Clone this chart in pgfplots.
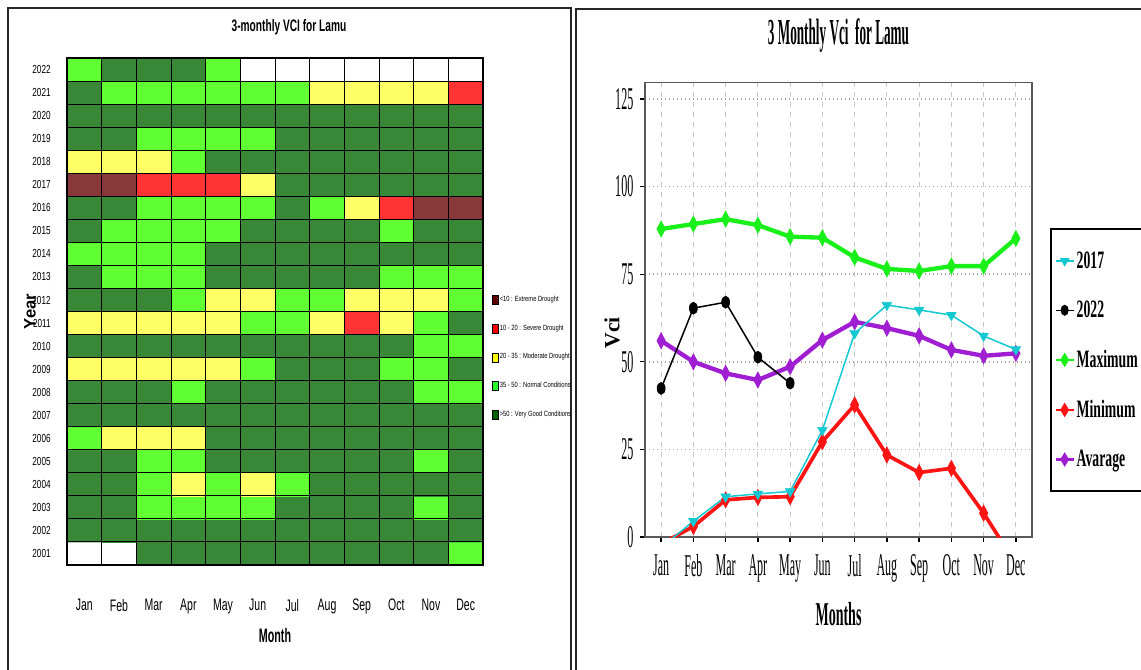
\documentclass[border=0pt]{standalone}
\usepackage{fontspec}
\setmainfont{Liberation Serif}
\newfontfamily\sansf{Liberation Sans}
\usepackage{graphicx}
\usepackage{pgfplots}
\pgfplotsset{compat=1.18}

\definecolor{lExt}{RGB}{95,0,0}
\definecolor{lSev}{RGB}{255,0,0}
\definecolor{lMod}{RGB}{255,255,0}
\definecolor{lNor}{RGB}{40,255,40}
\definecolor{lGood}{RGB}{0,95,0}
\definecolor{cC}{RGB}{20,200,210}
\definecolor{cG}{RGB}{25,240,25}
\definecolor{cR}{RGB}{255,20,20}
\definecolor{cP}{RGB}{160,30,210}

% left panel text helpers
\newcommand{\LMo}[1]{\scalebox{0.63}[1]{\sansf\fontsize{10}{10}\selectfont #1}}
\newcommand{\LYr}[1]{\scalebox{0.7}[1]{\sansf\fontsize{7}{7}\selectfont #1}}
\newcommand{\LGd}[1]{\scalebox{0.77}[1]{\sansf\fontsize{4.5}{4.5}\selectfont #1}}
% right panel text helpers
\newcommand{\RTk}[1]{\scalebox{0.38}[1]{\fontsize{19}{19}\selectfont #1}}
\newcommand{\RLg}[1]{\scalebox{0.55}[1]{\fontsize{15}{15}\selectfont\bfseries #1}}

\pgfplotsset{swatch/.style={legend image code/.code={\draw[fill=#1, draw=black, line width=0.3pt] (0pt,-2.7pt) rectangle (3.6pt,2.7pt);}}}

\begin{document}
\begin{tikzpicture}
\useasboundingbox (0,0) rectangle (684.6pt,401.4pt);
\draw[line width=0.9pt, black!85] (4.8pt,-3pt) -- (4.8pt,396.6pt) -- (342.6pt,396.6pt) -- (342.6pt,-3pt);
\draw[line width=0.9pt, black!85] (345.6pt,-3pt) -- (345.6pt,396pt) -- (690pt,396pt);

% ---------------- Left: heat map ----------------
\begin{axis}[
  at={(40.2pt,62.4pt)}, anchor=south west, scale only axis,
  width=249.6pt, height=304.2pt,
  xmin=0.5, xmax=12.5, ymin=2000.5, ymax=2022.5,
  xtick={1,...,12},
  xticklabels={\LMo{Jan},\LMo{Feb},\LMo{Mar},\LMo{Apr},\LMo{May},\LMo{Jun},\LMo{Jul},\LMo{Aug},\LMo{Sep},\LMo{Oct},\LMo{Nov},\LMo{Dec}},
  ytick={2001,...,2022},
  yticklabels={\LYr{2001},\LYr{2002},\LYr{2003},\LYr{2004},\LYr{2005},\LYr{2006},\LYr{2007},\LYr{2008},\LYr{2009},\LYr{2010},\LYr{2011},\LYr{2012},\LYr{2013},\LYr{2014},\LYr{2015},\LYr{2016},\LYr{2017},\LYr{2018},\LYr{2019},\LYr{2020},\LYr{2021},\LYr{2022}},
  minor xtick={0.5,1.5,...,12.5},
  minor ytick={2000.5,2001.5,...,2022.5},
  grid=minor, minor grid style={black, line width=0.6pt},
  major tick length=0pt, minor tick length=0pt,
  axis on top, axis line style={black, line width=0.8pt},
  colormap={vci}{rgb255=(255,255,255) rgb255=(136,56,56) rgb255=(255,51,51) rgb255=(255,255,102) rgb255=(96,255,51) rgb255=(56,136,56)},
  point meta min=0, point meta max=5,
  xticklabel style={yshift=-17pt},
  yticklabel style={xshift=-6.3pt},
  xlabel={\scalebox{0.55}[1]{\sansf\bfseries\fontsize{11.7}{12}\selectfont Month}},
  ylabel={{\sansf\bfseries\fontsize{10}{10}\selectfont Year}},
  every axis x label/.style={at={(axis description cs:0.5,0)}, anchor=center, yshift=-42.6pt},
  every axis y label/.style={at={(axis description cs:0,0.5)}, anchor=center, xshift=-22.2pt, rotate=90},
  title={\scalebox{0.61}[1]{\sansf\bfseries\fontsize{10}{12}\selectfont 3-monthly VCI for Lamu}},
  every axis title/.style={at={(axis description cs:0.5,1)}, anchor=center, yshift=18.6pt, xshift=8.4pt},
  legend style={at={(axis description cs:1.0216,0.5335)}, anchor=north west, draw=none, fill=none,
    inner sep=0pt, row sep=11.3pt, nodes={inner sep=0.6pt}},
  legend cell align=left,
]
\addplot[matrix plot*, mesh/cols=12, point meta=explicit, forget plot] coordinates {
(1,2001)[0] (2,2001)[0] (3,2001)[5] (4,2001)[5] (5,2001)[5] (6,2001)[5] (7,2001)[5] (8,2001)[5] (9,2001)[5] (10,2001)[5] (11,2001)[5] (12,2001)[4]
(1,2002)[5] (2,2002)[5] (3,2002)[5] (4,2002)[5] (5,2002)[5] (6,2002)[5] (7,2002)[5] (8,2002)[5] (9,2002)[5] (10,2002)[5] (11,2002)[5] (12,2002)[5]
(1,2003)[5] (2,2003)[5] (3,2003)[4] (4,2003)[4] (5,2003)[4] (6,2003)[4] (7,2003)[5] (8,2003)[5] (9,2003)[5] (10,2003)[5] (11,2003)[4] (12,2003)[5]
(1,2004)[5] (2,2004)[5] (3,2004)[4] (4,2004)[3] (5,2004)[4] (6,2004)[3] (7,2004)[4] (8,2004)[5] (9,2004)[5] (10,2004)[5] (11,2004)[5] (12,2004)[5]
(1,2005)[5] (2,2005)[5] (3,2005)[4] (4,2005)[4] (5,2005)[5] (6,2005)[5] (7,2005)[5] (8,2005)[5] (9,2005)[5] (10,2005)[5] (11,2005)[4] (12,2005)[5]
(1,2006)[4] (2,2006)[3] (3,2006)[3] (4,2006)[3] (5,2006)[5] (6,2006)[5] (7,2006)[5] (8,2006)[5] (9,2006)[5] (10,2006)[5] (11,2006)[5] (12,2006)[5]
(1,2007)[5] (2,2007)[5] (3,2007)[5] (4,2007)[5] (5,2007)[5] (6,2007)[5] (7,2007)[5] (8,2007)[5] (9,2007)[5] (10,2007)[5] (11,2007)[5] (12,2007)[5]
(1,2008)[5] (2,2008)[5] (3,2008)[5] (4,2008)[4] (5,2008)[5] (6,2008)[5] (7,2008)[5] (8,2008)[5] (9,2008)[5] (10,2008)[5] (11,2008)[4] (12,2008)[4]
(1,2009)[3] (2,2009)[3] (3,2009)[3] (4,2009)[3] (5,2009)[3] (6,2009)[4] (7,2009)[5] (8,2009)[5] (9,2009)[5] (10,2009)[4] (11,2009)[4] (12,2009)[5]
(1,2010)[5] (2,2010)[5] (3,2010)[5] (4,2010)[5] (5,2010)[5] (6,2010)[5] (7,2010)[5] (8,2010)[5] (9,2010)[5] (10,2010)[5] (11,2010)[4] (12,2010)[4]
(1,2011)[3] (2,2011)[3] (3,2011)[3] (4,2011)[3] (5,2011)[3] (6,2011)[4] (7,2011)[4] (8,2011)[3] (9,2011)[2] (10,2011)[3] (11,2011)[4] (12,2011)[5]
(1,2012)[5] (2,2012)[5] (3,2012)[5] (4,2012)[4] (5,2012)[3] (6,2012)[3] (7,2012)[4] (8,2012)[4] (9,2012)[3] (10,2012)[3] (11,2012)[3] (12,2012)[4]
(1,2013)[5] (2,2013)[4] (3,2013)[4] (4,2013)[4] (5,2013)[5] (6,2013)[5] (7,2013)[5] (8,2013)[5] (9,2013)[5] (10,2013)[4] (11,2013)[4] (12,2013)[4]
(1,2014)[4] (2,2014)[4] (3,2014)[4] (4,2014)[4] (5,2014)[5] (6,2014)[5] (7,2014)[5] (8,2014)[5] (9,2014)[5] (10,2014)[5] (11,2014)[5] (12,2014)[5]
(1,2015)[5] (2,2015)[4] (3,2015)[4] (4,2015)[4] (5,2015)[4] (6,2015)[5] (7,2015)[5] (8,2015)[5] (9,2015)[5] (10,2015)[4] (11,2015)[5] (12,2015)[5]
(1,2016)[5] (2,2016)[5] (3,2016)[4] (4,2016)[4] (5,2016)[4] (6,2016)[4] (7,2016)[5] (8,2016)[4] (9,2016)[3] (10,2016)[2] (11,2016)[1] (12,2016)[1]
(1,2017)[1] (2,2017)[1] (3,2017)[2] (4,2017)[2] (5,2017)[2] (6,2017)[3] (7,2017)[5] (8,2017)[5] (9,2017)[5] (10,2017)[5] (11,2017)[5] (12,2017)[5]
(1,2018)[3] (2,2018)[3] (3,2018)[3] (4,2018)[4] (5,2018)[5] (6,2018)[5] (7,2018)[5] (8,2018)[5] (9,2018)[5] (10,2018)[5] (11,2018)[5] (12,2018)[5]
(1,2019)[5] (2,2019)[5] (3,2019)[4] (4,2019)[4] (5,2019)[4] (6,2019)[4] (7,2019)[5] (8,2019)[5] (9,2019)[5] (10,2019)[5] (11,2019)[5] (12,2019)[5]
(1,2020)[5] (2,2020)[5] (3,2020)[5] (4,2020)[5] (5,2020)[5] (6,2020)[5] (7,2020)[5] (8,2020)[5] (9,2020)[5] (10,2020)[5] (11,2020)[5] (12,2020)[5]
(1,2021)[5] (2,2021)[4] (3,2021)[4] (4,2021)[4] (5,2021)[4] (6,2021)[4] (7,2021)[4] (8,2021)[3] (9,2021)[3] (10,2021)[3] (11,2021)[3] (12,2021)[2]
(1,2022)[4] (2,2022)[5] (3,2022)[5] (4,2022)[5] (5,2022)[4] (6,2022)[0] (7,2022)[0] (8,2022)[0] (9,2022)[0] (10,2022)[0] (11,2022)[0] (12,2022)[0]
};
\addlegendimage{swatch=lExt}
\addlegendimage{swatch=lSev}
\addlegendimage{swatch=lMod}
\addlegendimage{swatch=lNor}
\addlegendimage{swatch=lGood}
\legend{\LGd{<10 : Extreme Drought},\LGd{10 - 20 : Severe Drought},\LGd{20 - 35 : Moderate Drought},\LGd{35 - 50 : Normal Conditions},\LGd{>50 : Very Good Conditions}}
\end{axis}

% ---------------- Right: line chart ----------------
\begin{axis}[
  at={(387pt,79.2pt)}, anchor=south west, scale only axis,
  width=232.2pt, height=272.6pt,
  xmin=0.5, xmax=12.5, ymin=0, ymax=129.65,
  xtick={1,...,12},
  xticklabels={\RTk{Jan},\RTk{Feb},\RTk{Mar},\RTk{Apr},\RTk{May},\RTk{Jun},\RTk{Jul},\RTk{Aug},\RTk{Sep},\RTk{Oct},\RTk{Nov},\RTk{Dec}},
  ytick={0,25,50,75,100,125},
  yticklabels={\RTk{0},\RTk{25},\RTk{50},\RTk{75},\RTk{100},\RTk{125}},
  tick pos=left, tick align=outside, major tick length=3pt,
  tick style={black, line width=0.8pt},
  xmajorgrids, ymajorgrids,
  x grid style={dashed, black!22, line width=0.5pt},
  y grid style={dotted, black!35, line width=0.9pt},
  axis line style={black!65, line width=1pt},
  xticklabel style={yshift=-4pt},
  yticklabel style={xshift=-0.5pt},
  xlabel={\scalebox{0.42}[1]{\fontsize{20}{20}\selectfont\bfseries Months}},
  ylabel={{\fontsize{13}{13}\selectfont\bfseries Vci}},
  every axis x label/.style={at={(axis description cs:0.5,0)}, anchor=center, yshift=-46.2pt},
  every axis y label/.style={at={(axis description cs:0,0.449)}, anchor=center, xshift=-19.8pt, rotate=90},
  title={\scalebox{0.36}[1]{\fontsize{22}{22}\selectfont\bfseries 3 Monthly Vci \ for Lamu}},
  every axis title/.style={at={(axis description cs:0.5,1)}, anchor=center, yshift=28pt},
  legend style={at={(axis description cs:1.0465,0.680)}, anchor=north west, draw=black, line width=1.2pt,
    fill=white, inner xsep=2pt, inner ysep=12.4pt, row sep=16.1pt, nodes={inner sep=1pt}},
  legend cell align=left,
  legend image code/.code={\draw[mark repeat=2, mark phase=2, #1] plot coordinates {(0pt,0pt) (5.4pt,0pt) (10.8pt,0pt)};},
]
\addlegendimage{cC, line width=0.8pt, mark=triangle*, mark size=3pt, mark options={rotate=180, line width=0.4pt}}
\addlegendimage{black, line width=0.8pt, mark=*, mark size=2.2pt, mark options={yscale=1.4, line width=0.4pt}}
\addlegendimage{cG, line width=1.6pt, mark=diamond*, mark size=4pt, mark options={xscale=0.8, line width=0.4pt}}
\addlegendimage{cR, line width=1.6pt, mark=diamond*, mark size=4pt, mark options={xscale=0.8, line width=0.4pt}}
\addlegendimage{cP, line width=1.6pt, mark=diamond*, mark size=4pt, mark options={xscale=0.8, line width=0.4pt}}
% Maximum
\addplot[cG, line width=2.6pt, mark=diamond*, mark size=4.8pt, mark options={xscale=0.7, line width=0.4pt}, forget plot]
  coordinates {(1,87.9) (2,89.3) (3,90.7) (4,89.0) (5,85.7) (6,85.4) (7,79.8) (8,76.5) (9,75.9) (10,77.3) (11,77.3) (12,85.2)};
% Avarage
\addplot[cP, line width=2.6pt, mark=diamond*, mark size=4.8pt, mark options={xscale=0.7, line width=0.4pt}, forget plot]
  coordinates {(1,56.0) (2,50.0) (3,46.7) (4,44.8) (5,48.6) (6,56.2) (7,61.4) (8,59.6) (9,57.4) (10,53.4) (11,51.7) (12,52.4)};
% Minimum
\addplot[cR, line width=2.2pt, mark=diamond*, mark size=4.8pt, mark options={xscale=0.7, line width=0.4pt}, forget plot]
  coordinates {(1,-2.0) (2,3.0) (3,10.6) (4,11.3) (5,11.5) (6,27.2) (7,37.7) (8,23.4) (9,18.4) (10,19.6) (11,6.8) (12,-7.7)};
% 2022
\addplot[black, line width=0.9pt, mark=*, mark size=2.4pt, mark options={yscale=1.5, line width=0.4pt}, forget plot]
  coordinates {(1,42.4) (2,65.3) (3,67.0) (4,51.3) (5,43.9)};
% 2017
\addplot[cC, line width=0.9pt, mark=triangle*, mark size=3.3pt, mark options={rotate=180, line width=0.4pt}, forget plot]
  coordinates {(1,-3.0) (2,4.5) (3,11.5) (4,12.3) (5,13.0) (6,30.5) (7,58.1) (8,66.2) (9,64.8) (10,63.3) (11,57.4) (12,53.5)};
\legend{\RLg{2017},\RLg{2022},\RLg{Maximum},\RLg{Minimum},\RLg{Avarage}}
\end{axis}
\end{tikzpicture}
\end{document}
